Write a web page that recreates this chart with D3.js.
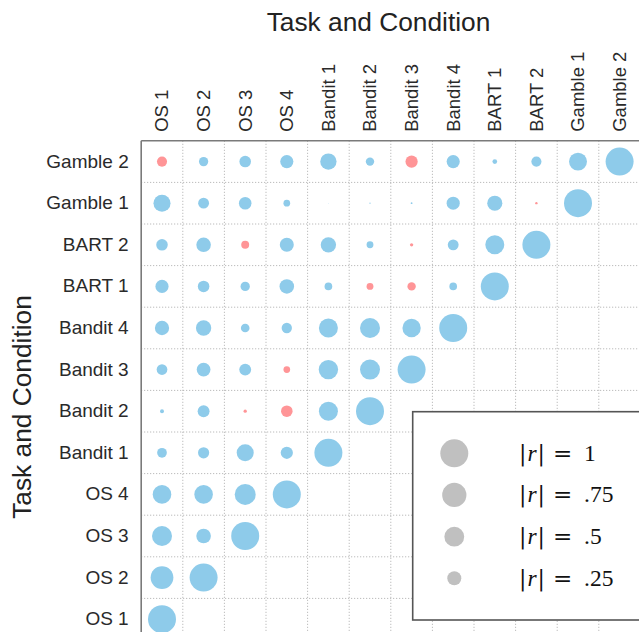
<!DOCTYPE html>
<html>
<head>
<meta charset="utf-8">
<script src="https://cdn.jsdelivr.net/npm/d3@7"></script>
<style>
  html, body { margin: 0; padding: 0; background: #fff; }
  svg { display: block; }
</style>
</head>
<body>
<svg id="chart" width="639" height="632"></svg>
<script>
// ---- data ----
const labels = ["OS 1","OS 2","OS 3","OS 4","Bandit 1","Bandit 2","Bandit 3","Bandit 4","BART 1","BART 2","Gamble 1","Gamble 2"];
// lower-triangle correlations, row i lists r with columns 0..i-1 (diagonal = 1)
const rowOS2 = [0.66];
const rowOS3 = [0.51, 0.27];
const rowOS4 = [0.44, 0.44, 0.56];
const rowBandit1 = [0.12, 0.16, 0.37, 0.19];
const rowBandit2 = [0.02, 0.18, -0.014, -0.17, 0.46];
const rowBandit3 = [0.145, 0.24, 0.18, -0.057, 0.48, 0.51];
const rowBandit4 = [0.26, 0.30, 0.096, 0.136, 0.46, 0.51, 0.43];
const rowBART1 = [0.22, 0.17, 0.11, 0.27, 0.075, -0.06, -0.09, 0.075];
const rowBART2 = [0.17, 0.27, -0.08, 0.25, 0.30, 0.06, -0.014, 0.15, 0.46];
const rowGamble1 = [0.37, 0.15, 0.20, 0.057, 0.0005, 0.002, 0.004, 0.22, 0.29, -0.007];
const rowGamble2 = [-0.13, 0.11, 0.17, 0.22, 0.34, 0.09, -0.19, 0.22, 0.028, 0.13, 0.41];
const lowerRows = [[], rowOS2, rowOS3, rowOS4, rowBandit1, rowBandit2, rowBandit3, rowBandit4, rowBART1, rowBART2, rowGamble1, rowGamble2];
const legendValues = [1, 0.75, 0.5, 0.25];
const legendLabels = ["1", ".75", ".5", ".25"];
const axisTitle = "Task and Condition";

// ---- build cells ----
const cells = [];
lowerRows.forEach((row, i) => {
  row.forEach((r, j) => cells.push({row: labels[i], col: labels[j], r}));
  cells.push({row: labels[i], col: labels[i], r: 1});
});

const svg = d3.select("#chart");
const plotLeft = 141.2, plotTop = 140.8, cell = 41.6;
const x = d3.scaleBand().domain(labels).range([plotLeft, plotLeft + cell * labels.length]);
const y = d3.scaleBand().domain(labels.slice().reverse()).range([plotTop, plotTop + cell * labels.length]);
const rad = d3.scaleSqrt().domain([0, 1]).range([0, 14]);
const blue = "#8ecbea", red = "#ff9597";

// grid (dotted)
const grid = svg.append("g").attr("stroke", "#acacac").attr("stroke-width", 1).attr("stroke-dasharray", "1,2");
labels.forEach(l => {
  grid.append("line").attr("x1", x(l) + x.bandwidth()).attr("x2", x(l) + x.bandwidth())
    .attr("y1", plotTop).attr("y2", plotTop + cell * labels.length);
  grid.append("line").attr("y1", y(l) + y.bandwidth()).attr("y2", y(l) + y.bandwidth())
    .attr("x1", plotLeft).attr("x2", plotLeft + cell * labels.length);
});

// circles
svg.append("g").selectAll("circle").data(cells).join("circle")
  .attr("cx", d => x(d.col) + x.bandwidth() / 2)
  .attr("cy", d => y(d.row) + y.bandwidth() / 2)
  .attr("r", d => rad(Math.abs(d.r)))
  .attr("fill", d => d.r < 0 ? red : blue);

// border (top + left)
svg.append("line").attr("x1", plotLeft).attr("x2", plotLeft + cell * labels.length).attr("y1", plotTop).attr("y2", plotTop)
  .attr("stroke", "#7a7a7a").attr("stroke-width", 1.6);
svg.append("line").attr("x1", plotLeft).attr("x2", plotLeft).attr("y1", plotTop).attr("y2", plotTop + cell * labels.length)
  .attr("stroke", "#7a7a7a").attr("stroke-width", 1.6);

const font = "'Liberation Sans', Arial, Helvetica, sans-serif";

// row labels
const ax = svg.append("g").attr("transform", `translate(${plotLeft},0)`)
  .call(d3.axisLeft(y).tickSize(0).tickPadding(12.5));
ax.select(".domain").remove();
ax.selectAll("text").attr("font-family", font).attr("font-size", 19).attr("fill", "#2a2a2a");

// column labels
const axT = svg.append("g").attr("transform", `translate(0,${plotTop})`)
  .call(d3.axisTop(x).tickSize(0));
axT.select(".domain").remove();
axT.selectAll("text")
  .attr("transform", "rotate(-90)")
  .attr("text-anchor", "start")
  .attr("x", 9).attr("y", 0).attr("dy", "0.35em")
  .attr("font-family", font).attr("font-size", 18.5).attr("fill", "#2a2a2a");

// titles
svg.append("text").attr("x", 378.5).attr("y", 31).attr("text-anchor", "middle")
  .attr("font-family", font).attr("font-size", 26.3).attr("fill", "#222").text(axisTitle);
svg.append("text").attr("transform", "translate(31,407) rotate(-90)").attr("text-anchor", "middle")
  .attr("font-family", font).attr("font-size", 26.3).attr("fill", "#222").text(axisTitle);

// legend
const lg = svg.append("g");
lg.append("rect").attr("x", 412.7).attr("y", 411.7).attr("width", 300).attr("height", 208.3)
  .attr("fill", "#fff").attr("stroke", "#555").attr("stroke-width", 1.6);
const ly = d3.scalePoint().domain(legendLabels).range([453.3, 578.3]);
const serif = "'Liberation Serif', 'DejaVu Serif', serif";
legendValues.forEach((v, i) => {
  const cy = ly(legendLabels[i]);
  lg.append("circle").attr("cx", 454.3).attr("cy", cy).attr("r", rad(v)).attr("fill", "#c0c0c0");
  const t = lg.append("text").attr("y", cy + 7.4)
    .attr("font-family", serif).attr("font-size", 23.5).attr("fill", "#111");
  t.append("tspan").attr("x", 519).attr("font-family", "'DejaVu Serif', serif").attr("font-size", 22).text("|");
  t.append("tspan").attr("dx", 1).attr("font-style", "italic").text("r");
  t.append("tspan").attr("dx", 1).attr("font-family", "'DejaVu Serif', serif").attr("font-size", 22).text("|");
  t.append("tspan").attr("x", 553).attr("font-family", "'DejaVu Serif', serif").attr("font-size", 23).text("=");
  t.append("tspan").attr("x", 584).text(legendLabels[i]);
});
</script>
</body>
</html>
